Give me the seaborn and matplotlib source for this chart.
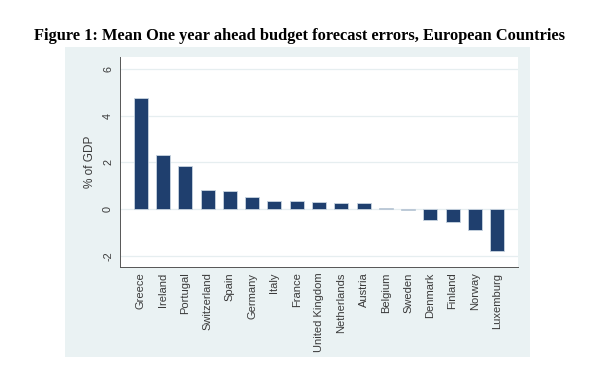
import matplotlib
matplotlib.use("Agg")
import matplotlib.pyplot as plt
import matplotlib.patches as mpatches
import pandas as pd
import seaborn as sns

countries = ["Greece", "Ireland", "Portugal", "Switzerland", "Spain", "Germany",
             "Italy", "France", "United Kingdom", "Netherlands", "Austria",
             "Belgium", "Sweden", "Denmark", "Finland", "Norway", "Luxemburg"]
errors = [4.74, 2.31, 1.87, 0.84, 0.80, 0.53, 0.37, 0.37, 0.31, 0.28, 0.25,
          0.07, -0.02, -0.46, -0.56, -0.90, -1.79]
yticks = [-2, 0, 2, 4, 6]

W, H = 614, 383
sns.set_style("white")
plt.rcParams["font.family"] = ["Liberation Sans", "DejaVu Sans"]

fig = plt.figure(figsize=(W / 100, H / 100), dpi=100)
fig.patch.set_facecolor("white")

# Stata-like graph region, behind the axes
fig.patches.append(mpatches.Rectangle(
    (65 / W, 1 - 357 / H), (530 - 65) / W, (357 - 47) / H,
    transform=fig.transFigure, facecolor="#eaf2f3", edgecolor="none", zorder=-5))

ax = fig.add_axes([120 / W, 1 - 267 / H, (518 - 120) / W, (267 - 57) / H])
ax.set_zorder(1)
ax.set_facecolor("white")

df = pd.DataFrame({"country": countries, "error": errors})
sns.barplot(data=df, x="country", y="error", color="#1f3f6e", width=0.63,
            edgecolor="#c8d4e0", linewidth=0.6, saturation=1, ax=ax, zorder=3)

ax.set_ylim(-2.47, 6.51)
ax.set_xlim(-0.94, len(countries) - 0.06)
ax.set_yticks(yticks)
ax.set_yticklabels([str(t) for t in yticks], rotation=90, va="center",
                   fontsize=7.8, color="#3a3a3a")
ax.tick_params(axis="y", length=3, width=0.6, color="#555555", pad=2)
ax.tick_params(axis="x", length=0, pad=4)
ax.set_xticks(range(len(countries)))
ax.set_xticklabels(countries, rotation=90, fontsize=8, color="#3a3a3a")
for t in yticks:
    ax.axhline(t, color="#e6eef0", linewidth=0.9, zorder=1)

ax.set_xlabel("")
ax.set_ylabel("% of GDP", fontsize=8.5, color="#3a3a3a", labelpad=5)

for side in ["top", "right"]:
    ax.spines[side].set_visible(False)
for side in ["left", "bottom"]:
    ax.spines[side].set_color("#555555")
    ax.spines[side].set_linewidth(0.7)

fig.text(300 / W, 1 - 36 / H, "Figure 1: Mean One year ahead budget forecast errors, European Countries",
         ha="center", va="center", fontsize=11.8, fontweight="bold", color="black",
         family=["Liberation Serif", "DejaVu Serif"])

fig.savefig("out.png", dpi=100)
